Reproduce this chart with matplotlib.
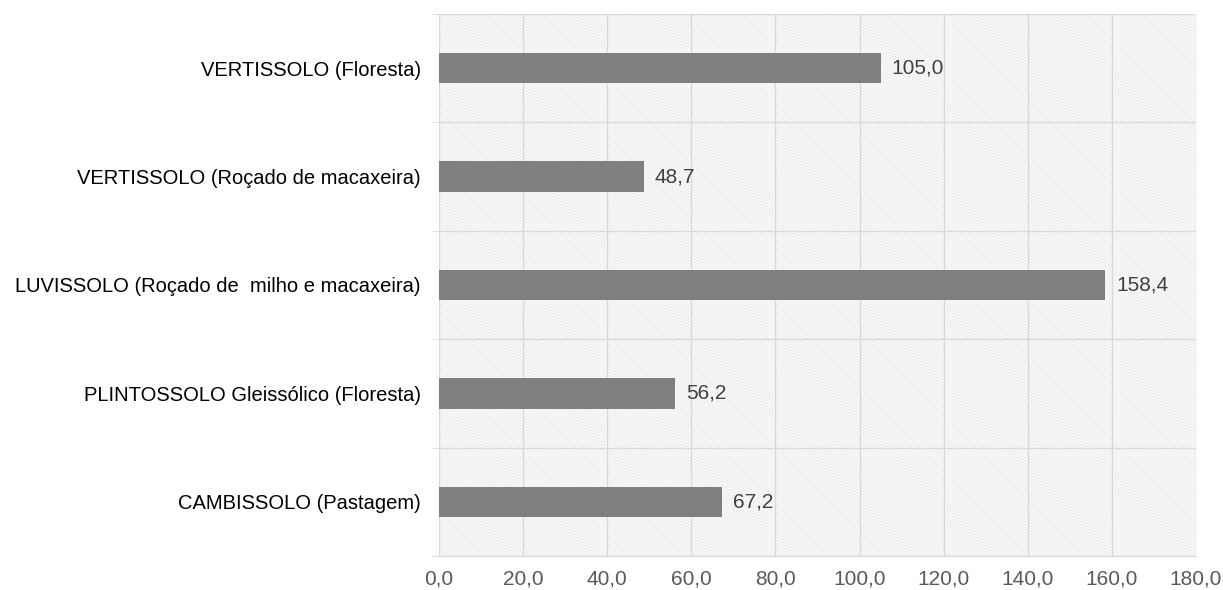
import matplotlib.pyplot as plt
from matplotlib.patches import Rectangle

plt.rcParams["font.family"] = ["Liberation Sans", "DejaVu Sans"]
plt.rcParams["hatch.linewidth"] = 0.4

categorias = [
    "CAMBISSOLO (Pastagem)",
    "PLINTOSSOLO Gleissólico (Floresta)",
    "LUVISSOLO (Roçado de  milho e macaxeira)",
    "VERTISSOLO (Roçado de macaxeira)",
    "VERTISSOLO (Floresta)",
]
valores = [67.2, 56.2, 158.4, 48.7, 105.0]
xticks = [0, 20, 40, 60, 80, 100, 120, 140, 160, 180]

fig = plt.figure(figsize=(12.23, 5.9), dpi=100)
ax = fig.add_axes([439 / 1223, 1 - 556 / 590, (1196 - 439) / 1223, (556 - 14) / 590])

# fundo hachurado
bg = Rectangle((0, 0), 1, 1, transform=ax.transAxes, facecolor="white",
               edgecolor="#dadada", hatch="\\" * 12, linewidth=0, zorder=0)
ax.add_patch(bg)

for x in xticks:
    ax.axvline(x, color="#d9d9d9", linewidth=1, zorder=1)
for i in range(len(categorias) + 1):
    ax.axhline(i - 0.5, color="#d9d9d9", linewidth=1, zorder=1)

bars = ax.barh(range(len(categorias)), valores, height=0.28, color="#7f7f7f", zorder=2)

for b, v in zip(bars, valores):
    ax.annotate(f"{v:.1f}".replace(".", ","), (v, b.get_y() + b.get_height() / 2),
                xytext=(8, 0), textcoords="offset points",
                va="center", ha="left", fontsize=15, color="#404040")

ax.set_yticks([i - 0.5 for i in range(len(categorias) + 1)], minor=True)
ax.set_yticks(range(len(categorias)))
ax.set_yticklabels(categorias, fontsize=14.5, color="#000000")
ax.set_xticks(xticks)
ax.set_xticklabels([f"{x:.1f}".replace(".", ",") for x in xticks], fontsize=15, color="#595959")

ax.set_xlim(0, 180)
ax.set_ylim(-0.5, len(categorias) - 0.5)

ax.tick_params(axis="y", which="major", length=0, pad=13)
ax.tick_params(axis="y", which="minor", length=5, color="#d9d9d9")
ax.tick_params(axis="x", length=0, pad=10)
for s in ["top", "right", "left"]:
    ax.spines[s].set_visible(False)
ax.spines["bottom"].set_color("#d9d9d9")

plt.savefig("out.png", dpi=100)
plt.close()
